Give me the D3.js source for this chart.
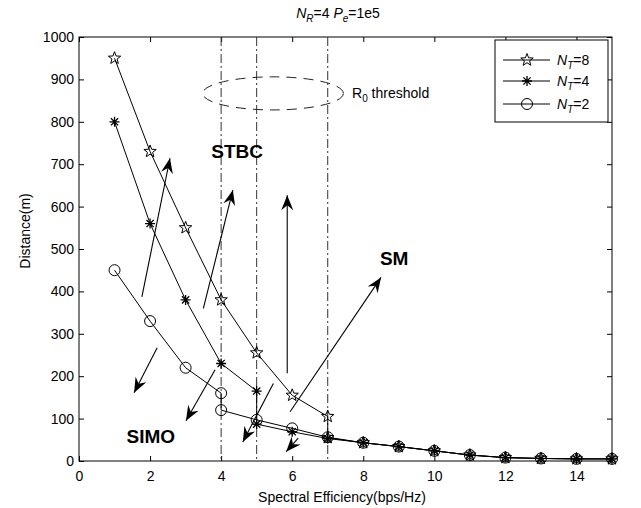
<!DOCTYPE html>
<html>
<head>
<meta charset="utf-8">
<script src="https://cdn.jsdelivr.net/npm/d3@7/dist/d3.min.js"></script>
<style>
  body { margin: 0; background: #fff; }
  text { font-family: "Liberation Sans", Arial, Helvetica, sans-serif; }
</style>
</head>
<body>
<svg id="chart" width="641" height="508"></svg>
<script>
// tick values
var xTicks = [0, 2, 4, 6, 8, 10, 12, 14];
var yTicks = [0, 100, 200, 300, 400, 500, 600, 700, 800, 900, 1000];

// series (x = spectral efficiency, y = distance in m)
var ntLabels = ["8", "4", "2"];
var xNt8 = [1, 2, 3, 4, 5, 6, 7, 7, 8, 9, 10, 11, 12, 13, 14, 15];
var yNt8 = [950, 730, 550, 380, 255, 155, 105, 55, 43, 34, 24, 14, 8, 6, 5, 5];
var xNt4 = [1, 2, 3, 4, 5, 5, 6, 7, 8, 9, 10, 11, 12, 13, 14, 15];
var yNt4 = [800, 560, 380, 230, 165, 87, 69, 53, 43, 34, 24, 14, 8, 6, 5, 5];
var xNt2 = [1, 2, 3, 4, 4, 5, 6, 7, 8, 9, 10, 11, 12, 13, 14, 15];
var yNt2 = [450, 330, 220, 160, 120, 97, 77, 56, 43, 34, 24, 14, 8, 6, 5, 5];

// R0 threshold vertical lines
var thresholdX = [4, 5, 7];

// annotation arrows [x1, y1, x2, y2] in data units
var arrowList = [
  [1.77, 387, 2.56, 714],
  [3.5, 360, 4.33, 639],
  [2.2, 267, 1.55, 161],
  [3.83, 215, 3.01, 95],
  [5.47, 183, 4.61, 45],
  [6.17, 54, 5.83, 22],
  [5.86, 207, 5.86, 627],
  [5.94, 116, 8.5, 433]
];
var regionLabels = [["STBC", 4.45, 731], ["SM", 8.87, 478], ["SIMO", 2.02, 59]];

var margin = { top: 37, right: 29, bottom: 47, left: 79 };
var width = 641, height = 508;

var svg = d3.select("#chart");

var xScale = d3.scaleLinear().domain([0, 15]).range([margin.left, width - margin.right]);
var yScale = d3.scaleLinear().domain([0, 1000]).range([height - margin.bottom, margin.top]);

var x0 = xScale(0), x1 = xScale(15), yb = yScale(0), yt = yScale(1000);

svg.append("rect").attr("width", width).attr("height", height).attr("fill", "#fff");

// arrow head
svg.append("defs").append("marker")
  .attr("id", "head")
  .attr("markerUnits", "userSpaceOnUse")
  .attr("viewBox", "-16 -7 18 14")
  .attr("markerWidth", 18)
  .attr("markerHeight", 14)
  .attr("refX", 0)
  .attr("refY", 0)
  .attr("orient", "auto")
  .append("path")
  .attr("d", "M0,0 L-15,-6 L-10,0 L-15,6 Z")
  .attr("fill", "#000");

// axes, ticks pointing inward like matlab
var bottomAxis = d3.axisBottom(xScale).tickValues(xTicks).tickFormat(d3.format("d"))
  .tickSizeInner(-5).tickSizeOuter(0).tickPadding(10);
var leftAxis = d3.axisLeft(yScale).tickValues(yTicks).tickFormat(d3.format("d"))
  .tickSizeInner(-5).tickSizeOuter(0).tickPadding(5);
var topAxis = d3.axisTop(xScale).tickValues(xTicks).tickSizeInner(-5).tickSizeOuter(0).tickFormat("");
var rightAxis = d3.axisRight(yScale).tickValues(yTicks).tickSizeInner(-5).tickSizeOuter(0).tickFormat("");

function styleAxis(g) {
  g.select(".domain").remove();
  g.selectAll("line").attr("stroke", "#000");
  g.selectAll("text").attr("fill", "#000").attr("font-size", 14);
}

svg.append("g").attr("transform", "translate(0," + yb + ")").call(bottomAxis).call(styleAxis);
svg.append("g").attr("transform", "translate(" + x0 + ",0)").call(leftAxis).call(styleAxis);
svg.append("g").attr("transform", "translate(0," + yt + ")").call(topAxis).call(styleAxis);
svg.append("g").attr("transform", "translate(" + x1 + ",0)").call(rightAxis).call(styleAxis);

svg.append("rect")
  .attr("x", x0).attr("y", yt)
  .attr("width", x1 - x0).attr("height", yb - yt)
  .attr("fill", "none").attr("stroke", "#000").attr("stroke-width", 1);

// threshold lines
svg.selectAll(".thr").data(thresholdX).enter().append("line")
  .attr("class", "thr")
  .attr("x1", function (d) { return xScale(d); })
  .attr("x2", function (d) { return xScale(d); })
  .attr("y1", yt).attr("y2", yb)
  .attr("stroke", "#333").attr("stroke-width", 1)
  .attr("stroke-dasharray", "9,3,2,3");

// R0 threshold ellipse
svg.append("ellipse")
  .attr("cx", xScale(5.46)).attr("cy", yScale(867))
  .attr("rx", xScale(5.46 + 1.98) - xScale(5.46))
  .attr("ry", yScale(867 - 39) - yScale(867))
  .attr("fill", "none").attr("stroke", "#222").attr("stroke-width", 1)
  .attr("stroke-dasharray", "10,7");

var r0 = svg.append("text").attr("x", 352).attr("y", yScale(867) + 5)
  .attr("font-size", 14).attr("fill", "#000");
r0.append("tspan").text("R");
r0.append("tspan").attr("font-size", 10).attr("dy", 4).text("0");
r0.append("tspan").attr("dy", -4).text(" threshold");

// series
var line = d3.line()
  .x(function (d) { return xScale(d[0]); })
  .y(function (d) { return yScale(d[1]); });

function zipPts(xs, ys) {
  return xs.map(function (v, i) { return [v, ys[i]]; });
}

function starPath(r) {
  var p = [];
  for (var i = 0; i < 10; i++) {
    var rr = i % 2 === 0 ? r : r * 0.42;
    var a = -Math.PI / 2 + i * Math.PI / 5;
    p.push([rr * Math.cos(a), rr * Math.sin(a)]);
  }
  return "M" + p.map(function (q) { return q[0].toFixed(2) + "," + q[1].toFixed(2); }).join("L") + "Z";
}
var asteriskPath = "M-5,0L5,0M0,-5L0,5M-3.6,-3.6L3.6,3.6M-3.6,3.6L3.6,-3.6";

var series = [
  { nt: ntLabels[2], pts: zipPts(xNt2, yNt2), mark: "circle" },
  { nt: ntLabels[1], pts: zipPts(xNt4, yNt4), mark: "asterisk" },
  { nt: ntLabels[0], pts: zipPts(xNt8, yNt8), mark: "star" }
];

function drawMarker(g, kind) {
  if (kind === "circle") {
    g.append("circle").attr("r", 5.5).attr("fill", "none").attr("stroke", "#000").attr("stroke-width", 1);
  } else if (kind === "star") {
    g.append("path").attr("d", starPath(6.5)).attr("fill", "none").attr("stroke", "#000").attr("stroke-width", 1);
  } else {
    g.append("path").attr("d", asteriskPath).attr("fill", "none").attr("stroke", "#000").attr("stroke-width", 1.3);
  }
}

series.forEach(function (s) {
  svg.append("path").datum(s.pts)
    .attr("d", line)
    .attr("fill", "none").attr("stroke", "#000").attr("stroke-width", 1);
  s.pts.forEach(function (p) {
    var g = svg.append("g").attr("transform", "translate(" + xScale(p[0]) + "," + yScale(p[1]) + ")");
    drawMarker(g, s.mark);
  });
});

// arrows
svg.selectAll(".arr").data(arrowList).enter().append("line")
  .attr("class", "arr")
  .attr("x1", function (d) { return xScale(d[0]); })
  .attr("y1", function (d) { return yScale(d[1]); })
  .attr("x2", function (d) { return xScale(d[2]); })
  .attr("y2", function (d) { return yScale(d[3]); })
  .attr("stroke", "#000").attr("stroke-width", 1.1)
  .attr("marker-end", "url(#head)");

// region labels
svg.selectAll(".reg").data(regionLabels).enter().append("text")
  .attr("class", "reg")
  .attr("x", function (d) { return xScale(d[1]); })
  .attr("y", function (d) { return yScale(d[2]) + 7; })
  .attr("text-anchor", "middle")
  .attr("font-size", 19).attr("font-weight", "bold").attr("fill", "#000")
  .text(function (d) { return d[0]; });

// legend
var legend = svg.append("g");
legend.append("rect")
  .attr("x", 495).attr("y", 40).attr("width", 113).attr("height", 82)
  .attr("fill", "#fff").attr("stroke", "#000").attr("stroke-width", 1);
var legendRows = [[ntLabels[0], "star", 60], [ntLabels[1], "asterisk", 81], [ntLabels[2], "circle", 104]];
legendRows.forEach(function (r) {
  legend.append("line").attr("x1", 503).attr("x2", 550).attr("y1", r[2]).attr("y2", r[2])
    .attr("stroke", "#000").attr("stroke-width", 1);
  drawMarker(legend.append("g").attr("transform", "translate(527," + r[2] + ")"), r[1]);
  var t = legend.append("text").attr("x", 557).attr("y", r[2] + 5).attr("font-size", 14).attr("fill", "#000");
  t.append("tspan").attr("font-style", "italic").text("N");
  t.append("tspan").attr("font-style", "italic").attr("font-size", 10).attr("dy", 4).text("T");
  t.append("tspan").attr("dy", -4).text("=" + r[0]);
});

// title
var title = svg.append("text").attr("x", 338).attr("y", 18).attr("text-anchor", "middle")
  .attr("font-size", 14).attr("fill", "#000");
title.append("tspan").attr("font-style", "italic").text("N");
title.append("tspan").attr("font-style", "italic").attr("font-size", 10).attr("dy", 4).text("R");
title.append("tspan").attr("dy", -4).text("=4 ");
title.append("tspan").attr("font-style", "italic").text("P");
title.append("tspan").attr("font-style", "italic").attr("font-size", 10).attr("dy", 4).text("e");
title.append("tspan").attr("dy", -4).text("=1e5");

// axis labels
svg.append("text").attr("x", 342).attr("y", 502).attr("text-anchor", "middle")
  .attr("font-size", 14).attr("fill", "#000").text("Spectral Efficiency(bps/Hz)");
svg.append("text").attr("transform", "translate(30,231) rotate(-90)").attr("text-anchor", "middle")
  .attr("font-size", 14).attr("fill", "#000").text("Distance(m)");
</script>
</body>
</html>
